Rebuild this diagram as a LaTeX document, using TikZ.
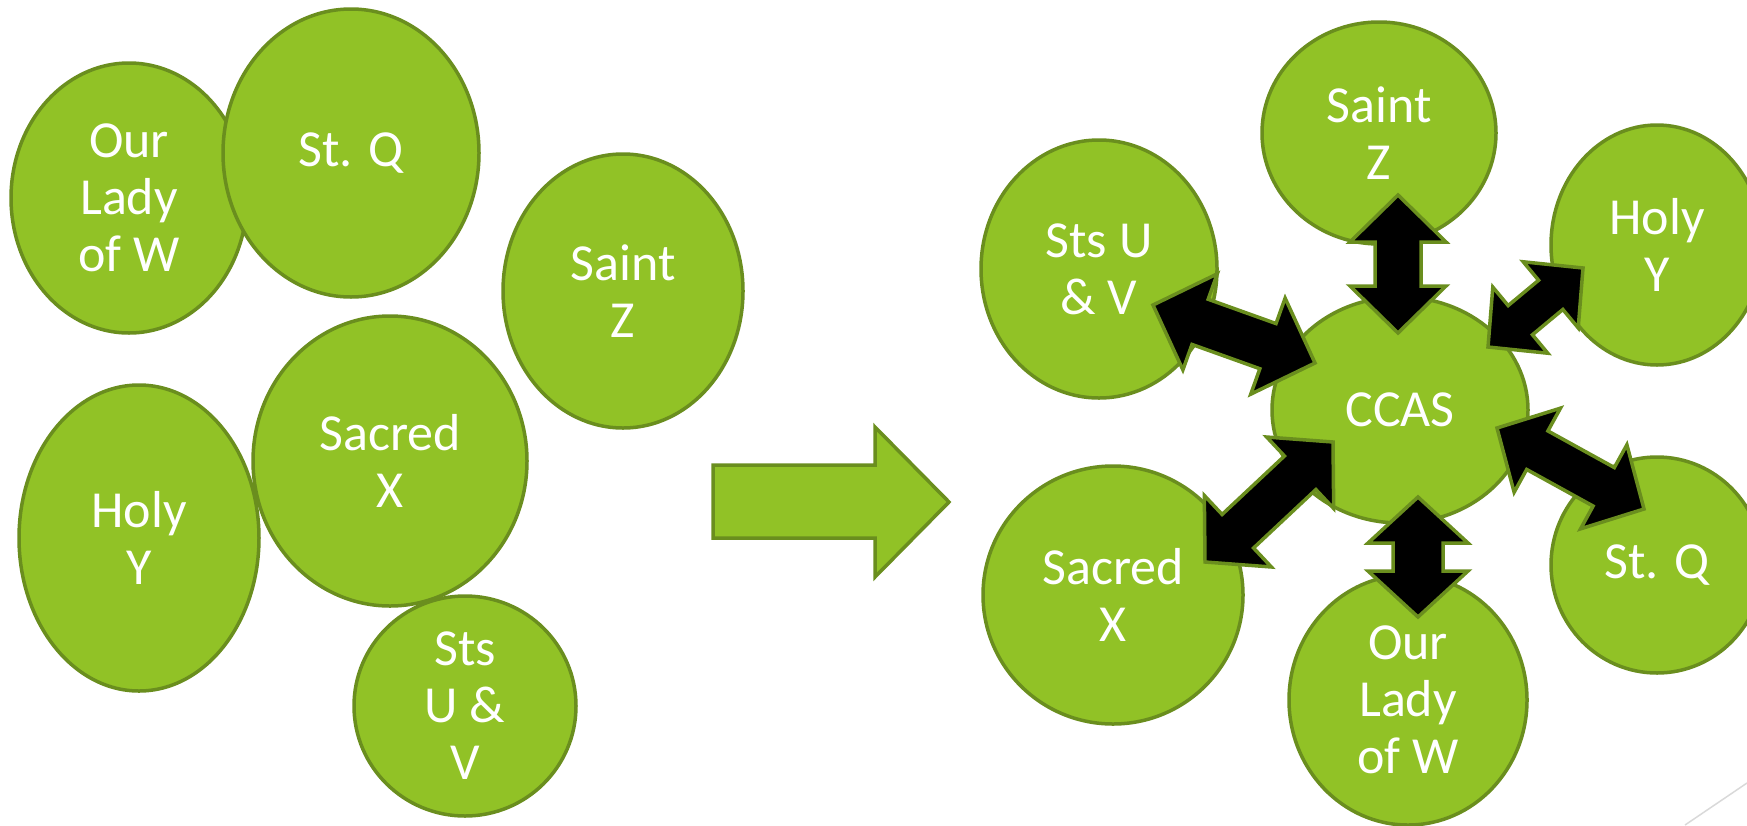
\documentclass[tikz,border=0pt]{standalone}
\usepackage{fontspec}
\setmainfont{Carlito}
\usetikzlibrary{shapes.geometric,calc}
\definecolor{leaf}{RGB}{145,194,38}
\definecolor{leafline}{RGB}{106,142,30}
\tikzset{
  parish/.style={ellipse, draw=leafline, fill=leaf, line width=3.5pt, inner sep=0pt},
  parishtext/.style={text=white, align=center, inner sep=0pt,
    font=\fontsize{52}{57}\selectfont},
  blockarrow/.style={draw=leafline, fill=black, line width=3.5pt, line join=miter},
}
% double block arrow between two tips: half head width, half shaft width, head length
\newcommand{\dblarrow}[5]{%
  \coordinate (pa) at ($(#1)!#5!(#2)$);
  \coordinate (pb) at ($(#2)!#5!(#1)$);
  \draw[blockarrow] (#1) -- ($(pa)!#3!90:(#2)$) -- ($(pa)!#4!90:(#2)$)
    -- ($(pb)!#4!-90:(#1)$) -- ($(pb)!#3!-90:(#1)$) -- (#2)
    -- ($(pb)!#3!90:(#1)$) -- ($(pb)!#4!90:(#1)$)
    -- ($(pa)!#4!-90:(#2)$) -- ($(pa)!#3!-90:(#2)$) -- cycle;
}
\begin{document}
\begin{tikzpicture}[x=1pt,y=-1pt]
\useasboundingbox (0,0) rectangle (1747,825);
% before: the parishes on their own
\foreach \nm/\pos/\ew/\eh/\txt in {
  ladyL/{(129,198)}/236/270/{Our\\Lady\\of W},
  stqL/{(351,153)}/256/288/{St. Q},
  satzL/{(623,291)}/240/274/{Saint\\Z},
  holyL/{(139,538)}/240/306/{Holy\\Y},
  sacL/{(390,461)}/274/290/{Sacred\\X},
  stsL/{(465,706)}/222/220/{Sts\\U \&\\V}}
{\node[parish, minimum width=\ew, minimum height=\eh] (\nm) at \pos {};
 \node[parishtext] (\nm-t) at (\nm) {\txt};}

% the big arrow
\draw[draw=leafline, fill=leaf, line width=3.5pt]
  (713,465) -- (875,465) -- (875,427) -- (949,502) -- (875,577) -- (875,538) -- (713,538) -- cycle;

% after: round the CCAS
\foreach \nm/\pos/\ew/\eh/\txt in {
  satzR/{(1379,133)}/234/222/{Saint\\Z},
  holyR/{(1657,245)}/212/240/{Holy\\Y},
  stsR/{(1099,269)}/236/258/{Sts U\\\& V},
  ccas/{(1400,410)}/256/226/{CCAS},
  stqR/{(1657,565)}/212/216/{St. Q},
  sacR/{(1113,595)}/260/258/{Sacred\\X},
  ladyR/{(1408,700)}/238/250/{Our\\Lady\\of W}}
{\node[parish, minimum width=\ew, minimum height=\eh] (\nm) at \pos {};
 \node[parishtext] (\nm-t) at (\nm) {\txt};}

% arrow tips
\coordinate (za) at (1398,195); \coordinate (zb) at (1398,333);
\coordinate (sa) at (1153,305); \coordinate (sb) at (1315,363);
\coordinate (ha) at (1488,347); \coordinate (hb) at (1583,268);
\coordinate (qa) at (1497,428); \coordinate (qb) at (1644,509);
\coordinate (xa) at (1205,562); \coordinate (xb) at (1333,442);
\coordinate (wa) at (1418,497); \coordinate (wb) at (1418,617);
\dblarrow{za}{zb}{48pt}{23pt}{47pt}
\dblarrow{sa}{sb}{51pt}{24pt}{50pt}
\dblarrow{ha}{hb}{43pt}{19pt}{42pt}
\dblarrow{qa}{qb}{48pt}{22pt}{46pt}
\dblarrow{xa}{xb}{49pt}{23pt}{45pt}
\dblarrow{wa}{wb}{50pt}{25pt}{46pt}

% slide corner line
\draw[black!15, line width=1.5pt] (1685,825) -- (1747,783);
\end{tikzpicture}
\end{document}
